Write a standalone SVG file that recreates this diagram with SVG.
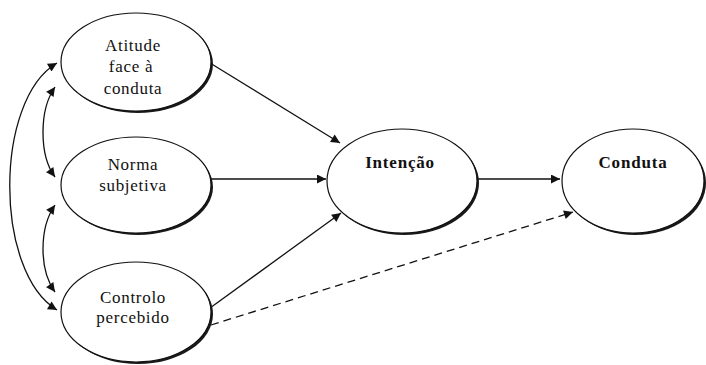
<svg xmlns="http://www.w3.org/2000/svg" width="706" height="365" viewBox="0 0 706 365">
<style>
.sh{fill:#1a1a1a;stroke:none}
.el{fill:#fff;stroke:#111;stroke-width:1.2}
.t{font-family:"Liberation Serif",serif;font-size:17px;fill:#111;text-anchor:middle;letter-spacing:0.7px}
.b{font-weight:bold;letter-spacing:0.8px}
.c{fill:none;stroke:#111;stroke-width:1.3}
.d{stroke-dasharray:8 5}
</style>
<defs>
<marker id="ah" viewBox="0 0 10 10" refX="10" refY="5" markerWidth="11" markerHeight="9" markerUnits="userSpaceOnUse" orient="auto-start-reverse">
<path d="M0,0 L10,5 L0,10 z" fill="#111"/>
</marker>
</defs>
<rect width="706" height="365" fill="#fff"/>
<g id="connectors">
<path class="c" d="M57,63 C-6,100 -6,272 57,310" marker-start="url(#ah)" marker-end="url(#ah)"/>
<path class="c" d="M55,87 C39,110 39,155 55,177" marker-start="url(#ah)" marker-end="url(#ah)"/>
<path class="c" d="M55,205 C39,228 39,270 55,292" marker-start="url(#ah)" marker-end="url(#ah)"/>
<line class="c" x1="210" y1="63" x2="340" y2="143" marker-end="url(#ah)"/>
<line class="c" x1="211" y1="179" x2="326" y2="179" marker-end="url(#ah)"/>
<line class="c" x1="210" y1="308" x2="341" y2="213" marker-end="url(#ah)"/>
<line class="c" x1="478" y1="179" x2="560" y2="179" marker-end="url(#ah)"/>
<line class="c d" x1="211" y1="325" x2="573" y2="212" marker-end="url(#ah)"/>
</g>
<g id="atitude">
<ellipse class="sh" cx="138" cy="64" rx="75" ry="49"/>
<ellipse class="el" cx="136" cy="62" rx="75" ry="49"/>
<text class="t" x="133" y="51">Atitude</text>
<text class="t" x="131" y="72">face à</text>
<text class="t" x="133" y="94">conduta</text>
</g>
<g id="norma">
<ellipse class="sh" cx="138" cy="187" rx="75" ry="48"/>
<ellipse class="el" cx="136" cy="185" rx="75" ry="48"/>
<text class="t" x="133" y="170">Norma</text>
<text class="t" x="133" y="191">subjetiva</text>
</g>
<g id="controlo">
<ellipse class="sh" cx="138" cy="314" rx="75" ry="50"/>
<ellipse class="el" cx="136" cy="312" rx="75" ry="50"/>
<text class="t" x="133" y="303">Controlo</text>
<text class="t" x="133" y="323">percebido</text>
</g>
<g id="intencao">
<ellipse class="sh" cx="404" cy="183" rx="75" ry="52"/>
<ellipse class="el" cx="402" cy="181" rx="75" ry="52"/>
<text class="t b" x="400" y="168">Intenção</text>
</g>
<g id="conduta">
<ellipse class="sh" cx="635" cy="183" rx="71" ry="52"/>
<ellipse class="el" cx="633" cy="181" rx="71" ry="52"/>
<text class="t b" x="633" y="168">Conduta</text>
</g>
</svg>
